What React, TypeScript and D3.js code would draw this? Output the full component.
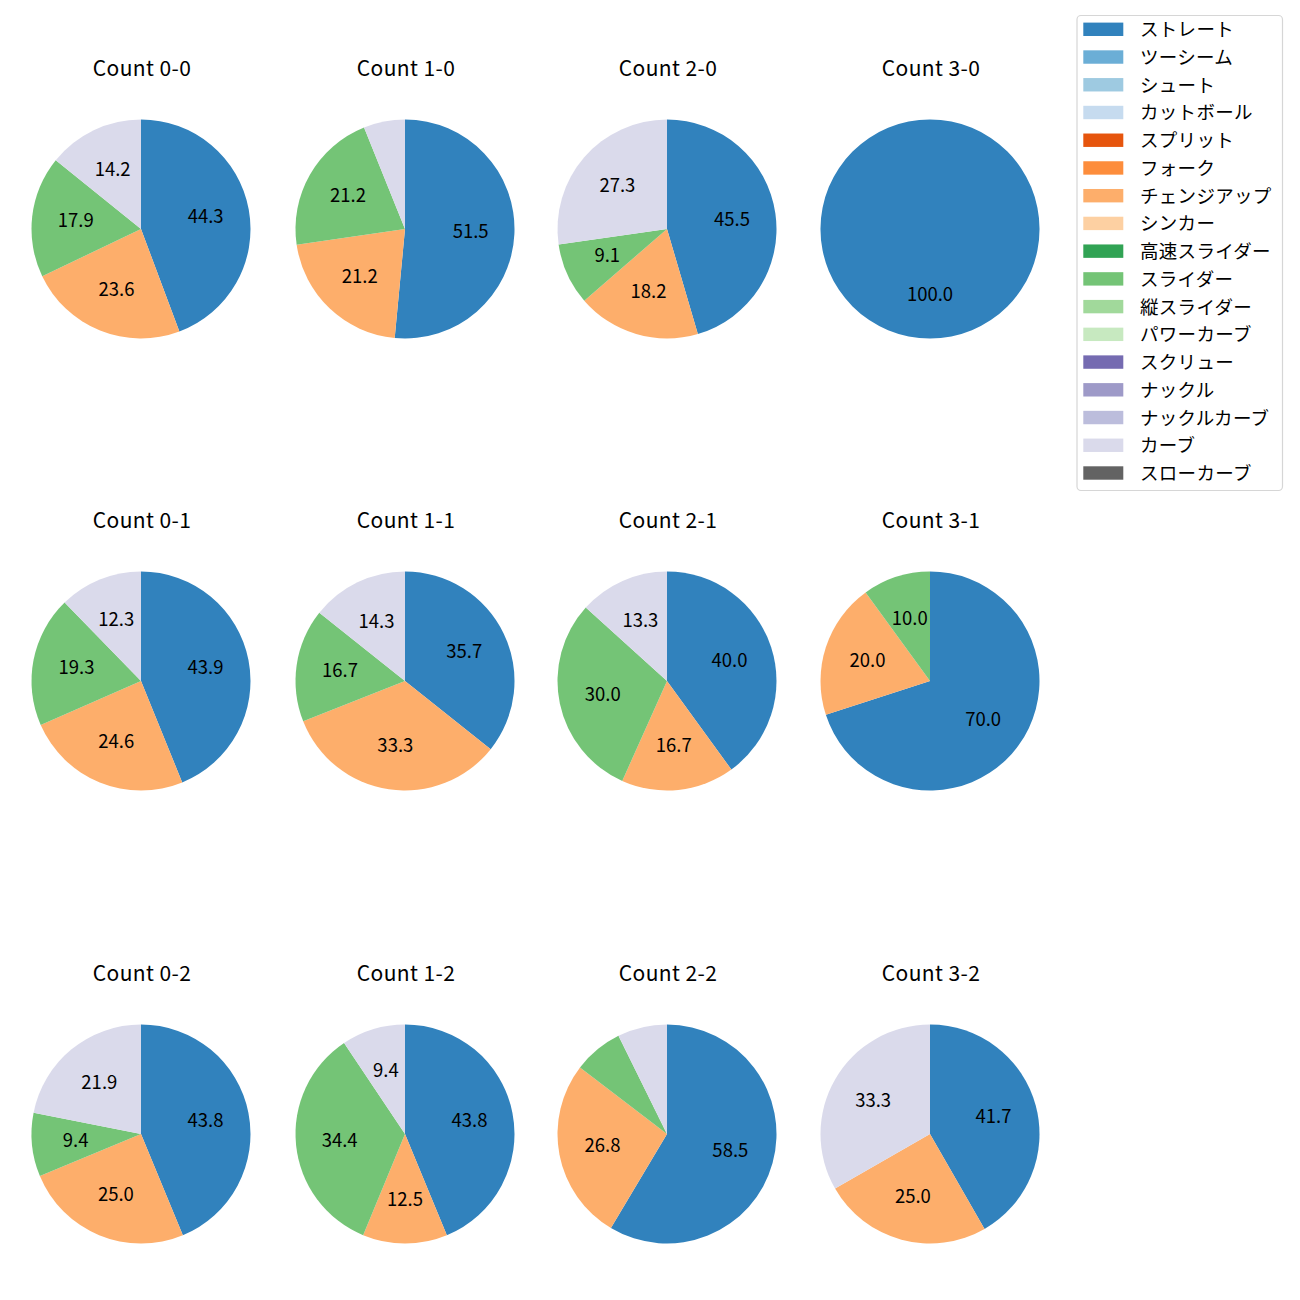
import React from "react";
import * as d3 from "d3";

const pitchTypes = [
  "ストレート", "ツーシーム", "シュート", "カットボール", "スプリット", "フォーク",
  "チェンジアップ", "シンカー", "高速スライダー", "スライダー", "縦スライダー",
  "パワーカーブ", "スクリュー", "ナックル", "ナックルカーブ", "カーブ", "スローカーブ",
];
const pitchColors = [
  "#3182bd", "#6baed6", "#9ecae1", "#c6dbef", "#e6550d", "#fd8d3c",
  "#fdae6b", "#fdd0a2", "#31a354", "#74c476", "#a1d99b", "#c7e9c0",
  "#756bb1", "#9e9ac8", "#bcbddc", "#dadaeb", "#636363",
];

// order in each pie (clockwise from top): ストレート, チェンジアップ, スライダー, カーブ
const sliceTypes = ["ストレート", "チェンジアップ", "スライダー", "カーブ"];

const countTitles = [
  "Count 0-0", "Count 1-0", "Count 2-0", "Count 3-0",
  "Count 0-1", "Count 1-1", "Count 2-1", "Count 3-1",
  "Count 0-2", "Count 1-2", "Count 2-2", "Count 3-2",
];
const straightPct = [44.3, 51.5, 45.5, 100.0, 43.9, 35.7, 40.0, 70.0, 43.8, 43.8, 58.5, 41.7];
const changeupPct = [23.6, 21.2, 18.2, 0, 24.6, 33.3, 16.7, 20.0, 25.0, 12.5, 26.8, 25.0];
const sliderPct = [17.9, 21.2, 9.1, 0, 19.3, 16.7, 30.0, 10.0, 9.4, 34.4, 7.3, 0];
const curvePct = [14.2, 6.1, 27.3, 0, 12.3, 14.3, 13.3, 0, 21.9, 9.4, 7.3, 33.3];

const colCenters = [141, 405, 667, 930];
const rowCenters = [229, 681, 1134];
const R = 109.5;

export default function App() {
  const pie = d3.pie<number>().sort(null).startAngle(0).endAngle(2 * Math.PI);
  const arc = d3.arc<d3.PieArcDatum<number>>().innerRadius(0).outerRadius(R);
  const colorOf = (name: string) => pitchColors[pitchTypes.indexOf(name)];
  const series = [straightPct, changeupPct, sliderPct, curvePct];
  const legendY = d3.scaleLinear().domain([0, pitchTypes.length - 1]).range([29.3, 473]);

  return (
    <svg width={1300} height={1300} style={{ position: "absolute", left: 0, top: 0, background: "#fff" }}
      fontFamily="'Noto Sans CJK JP', 'Noto Sans', sans-serif">
      {countTitles.map((title, i) => {
        const cx = colCenters[i % 4];
        const cy = rowCenters[Math.floor(i / 4)];
        const vals = series.map((s) => s[i]);
        const arcs = pie(vals);
        return (
          <g key={title}>
            <text x={cx + 1} y={cy - 162} textAnchor="middle" dominantBaseline="central" fontSize={21} letterSpacing={0.4} fill="#000">
              {title}
            </text>
            <g transform={`translate(${cx},${cy})`}>
              {arcs.map((a, j) =>
                a.value > 0 ? (
                  <path key={j} d={arc(a) || ""} fill={colorOf(sliceTypes[j])} />
                ) : null
              )}
              {arcs.map((a, j) => {
                if (a.value < 8) return null;
                const mid = (a.startAngle + a.endAngle) / 2;
                const x = 0.6 * R * Math.sin(mid);
                const y = -0.6 * R * Math.cos(mid);
                return (
                  <text key={"t" + j} x={x} y={y - 2} textAnchor="middle" dominantBaseline="central" fontSize={18.5} fill="#000">
                    {a.value.toFixed(1)}
                  </text>
                );
              })}
            </g>
          </g>
        );
      })}
      <g>
        <rect x={1077} y={15.5} width={205.5} height={475} rx={4} fill="#fff" stroke="#d6d6d6" strokeWidth={1.2} />
        {pitchTypes.map((name, k) => (
          <g key={name}>
            <rect x={1083.3} y={legendY(k) - 6.7} width={40} height={13.4} fill={pitchColors[k]} />
            <text x={1140} y={legendY(k) - 1} dominantBaseline="central" fontSize={18.5} letterSpacing={0.3} fill="#000">
              {name}
            </text>
          </g>
        ))}
      </g>
    </svg>
  );
}
